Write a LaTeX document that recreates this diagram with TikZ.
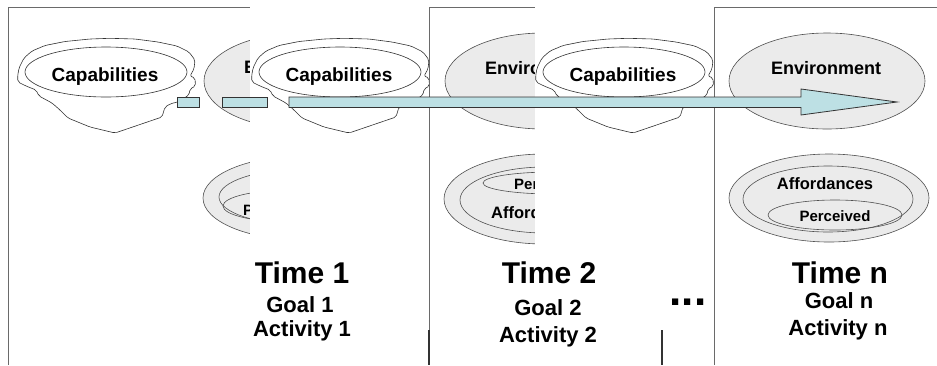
\documentclass[tikz,border=0pt]{standalone}
\usepackage{fontspec}
\setmainfont{Liberation Sans}
\definecolor{arrowfill}{HTML}{BDE0E4}
\definecolor{ovalfill}{HTML}{EBEBEB}
\definecolor{rimline}{HTML}{505050}
\definecolor{framegray}{HTML}{6A6A6A}

\tikzset{
  oval/.style={draw=rimline, line width=0.6pt, fill=ovalfill},
  innerov/.style={draw=rimline, line width=0.6pt},
  rim/.style={draw=black!80, line width=0.6pt, fill=white},
  frameline/.style={draw=framegray, line width=0.9pt},
  darkline/.style={draw=black!80, line width=1.2pt},
  panel/.style={fill=white, draw=none},
  arrowpart/.style={draw=black!80, line width=0.8pt, fill=arrowfill},
  lbl/.style={font=\bfseries\fontsize{#1}{#1}\selectfont, inner sep=0pt, anchor=base},
  lblw/.style={lbl=#1, anchor=base west},
}

% capabilities "bowl": outline, white rim oval and its label
\newcommand{\capsblob}[2]{%
  \begin{scope}[shift={(#1,0)}]
    \draw[rim, rounded corners=2pt]
      (17.5,77) -- (19,68) -- (24,58) -- (32,51) -- (45,45.5) -- (65,41.5)
      -- (90,39) -- (110,38.3) -- (135,39) -- (158,42) -- (177,46)
      -- (189,52) -- (195,60) -- (194,69) -- (190,76) -- (195,78)
      -- (195.5,86) -- (190,89) -- (189,95) -- (178,102) -- (171,103.5)
      -- (165,107) -- (162,117) -- (115,133) -- (90,127) -- (68,118)
      -- (60,110) -- (52,103) -- (39,96) -- (36,90) -- (26,86)
      -- (18,82) -- cycle;
    \draw[rim] (106,72) ellipse [x radius=81pt, y radius=25pt];
    \node[lbl=19] (#2) at (105,81.5) {Capabilities};
  \end{scope}}

\begin{document}
\begin{tikzpicture}[x=1pt, y=-1pt]
  \useasboundingbox (0,0) rectangle (937,365);
  \fill[white] (0,0) rectangle (937,365);

  % ---- first frame (its right part lies under the next panel) ----
  \draw[frameline] (8,365) -- (8,7) -- (250,7);
  \capsblob{0}{capA}
  \begin{scope}
    \clip (0,0) rectangle (250,365);
    \draw[oval] (302,81) ellipse [x radius=98pt, y radius=48pt];
    \node[lblw=18] (envA) at (244,73) {E};
    \draw[oval] (303,198) ellipse [x radius=100pt, y radius=42pt];
    \draw[innerov] (304,197) ellipse [x radius=85pt, y radius=28pt];
    \draw[innerov] (290,206) ellipse [x radius=67pt, y radius=16pt];
    \node[lblw=15] (perA) at (243,215) {P};
  \end{scope}

  % ---- second panel ----
  \fill[panel] (250,0) rectangle (429,365);
  \capsblob{234}{capB}

  % ---- frame for time 2 (cut off by the fourth panel) ----
  \fill[panel] (429,7) rectangle (535,365);
  \draw[frameline] (429,365) -- (429,7) -- (535,7);
  \begin{scope}
    \clip (429,0) rectangle (535,365);
    \draw[oval] (543,81) ellipse [x radius=98pt, y radius=48pt];
    \node[lblw=18] (envB) at (485,74) {Enviro};
    \draw[oval] (544,199) ellipse [x radius=100pt, y radius=45pt];
    \draw[innerov] (545,200) ellipse [x radius=85pt, y radius=33pt];
    \draw[innerov] (553,183) ellipse [x radius=70pt, y radius=11pt];
    \node[lblw=15] (perB) at (514,189) {Perc};
    \node[lblw=16.5] (affB) at (491,218) {Afford};
  \end{scope}

  % ---- fourth panel ----
  \fill[panel] (535,0) rectangle (714,365);
  \capsblob{518}{capC}

  % ---- frame for time n ----
  \fill[panel] (714,7) rectangle (937,365);
  \draw[frameline] (714,365) -- (714,7) -- (937,7);
  \draw[oval] (827,81) ellipse [x radius=98pt, y radius=48pt];
  \node[lbl=18] (envN) at (826,74) {Environment};
  \draw[oval] (829,198) ellipse [x radius=100pt, y radius=44pt];
  \draw[innerov] (828,199) ellipse [x radius=85pt, y radius=33pt];
  \draw[innerov] (835,215) ellipse [x radius=67pt, y radius=15pt];
  \node[lbl=16.5] (affN) at (825,189) {Affordances};
  \node[lbl=15] (perN) at (835,221) {Perceived};

  % ---- captions ----
  \node[lbl=30] (time1) at (302,283) {Time 1};
  \node[lbl=22] (goal1) at (300,312) {Goal 1};
  \node[lbl=22] (act1)  at (302,336) {Activity 1};
  \node[lbl=30] (time2) at (549,283) {Time 2};
  \node[lbl=22] (goal2) at (548,315) {Goal 2};
  \node[lbl=22] (act2)  at (548,342) {Activity 2};
  \node[lbl=30] (timeN) at (840,283) {Time n};
  \node[lbl=22] (goalN) at (839,308) {Goal n};
  \node[lbl=22] (actN)  at (838,335) {Activity n};
  \node[lbl=44] (dots)  at (688,305) {...};

  % short rules at the foot
  \draw[darkline] (429,330) -- (429,365);
  \draw[darkline] (662,330) -- (662,365);

  % ---- time arrow ----
  \draw[arrowpart] (177,97) rectangle (199,107.5);
  \draw[arrowpart] (222,97) rectangle (267,107.5);
  \draw[arrowpart] (289,97) -- (801,97) -- (801,89) -- (897,102)
    -- (801,115) -- (801,107.5) -- (289,107.5) -- cycle;
\end{tikzpicture}
\end{document}
